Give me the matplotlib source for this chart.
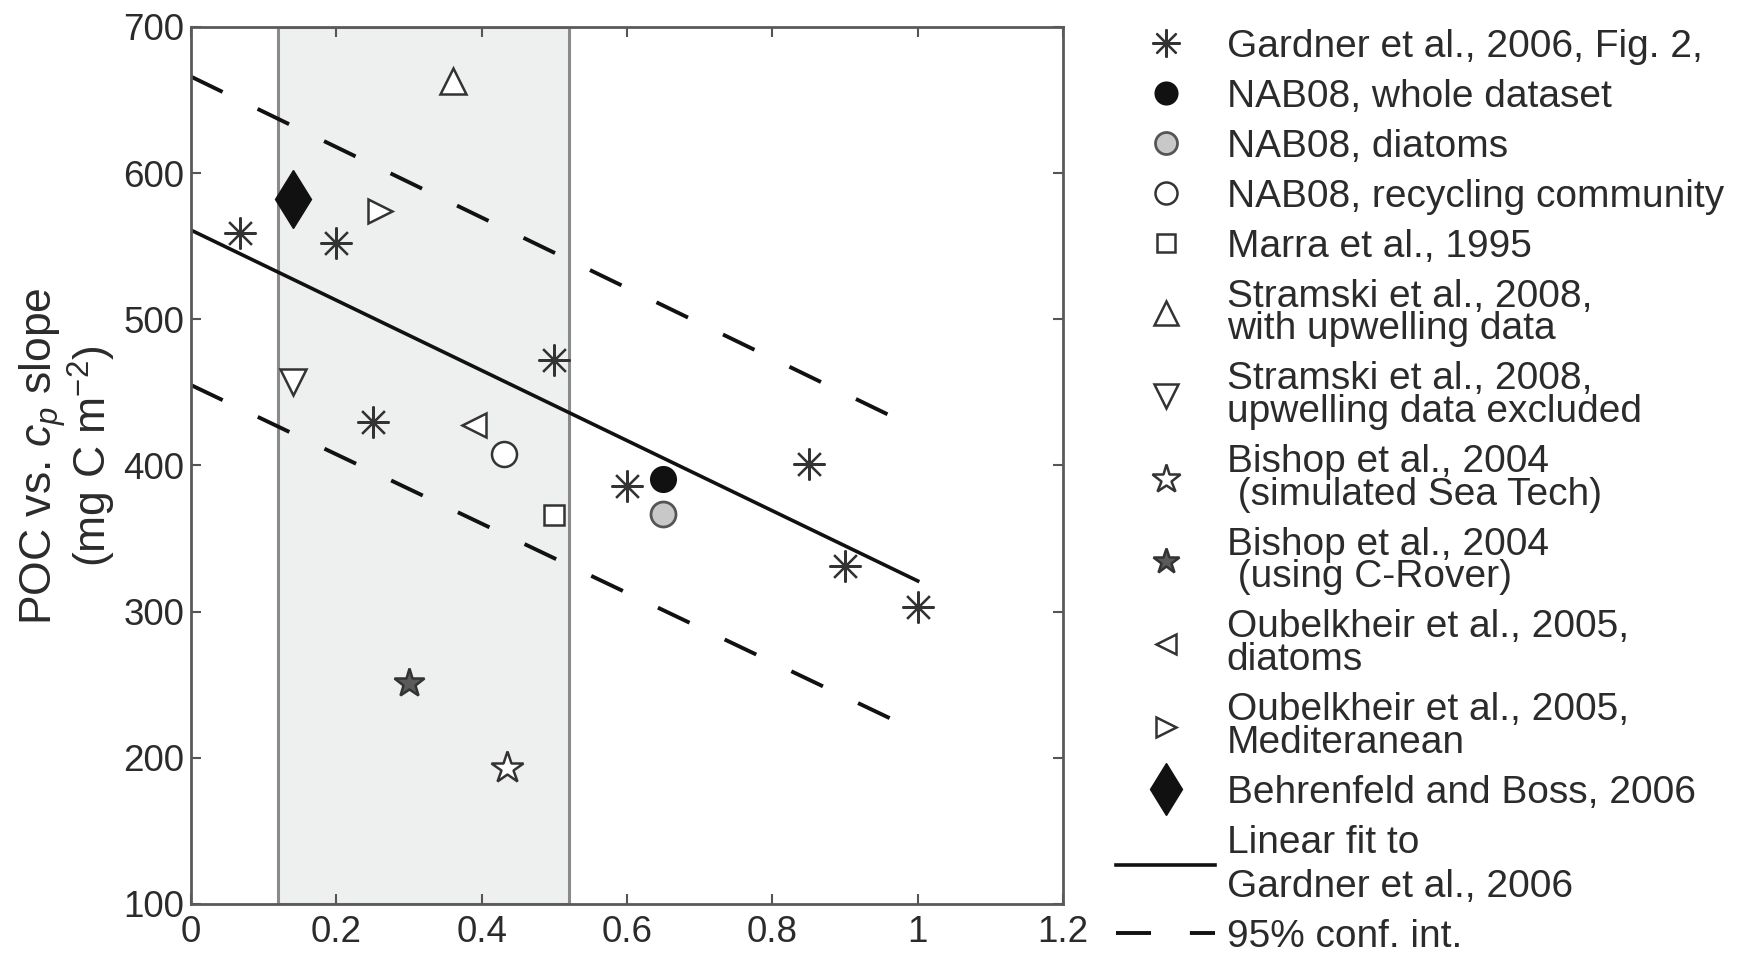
import matplotlib
matplotlib.use("Agg")
import matplotlib.pyplot as plt

plt.rcParams['font.family'] = ['Liberation Sans', 'DejaVu Sans']
plt.rcParams['mathtext.fontset'] = 'custom'
plt.rcParams['mathtext.rm'] = 'Liberation Sans'
plt.rcParams['mathtext.it'] = 'Liberation Sans:italic'

# ---------------- data ----------------
gardner_x = [0.067, 0.2, 0.25, 0.5, 0.6, 0.85, 0.9, 1.0]
gardner_y = [559, 552, 430, 472, 386, 401, 331, 303]

nab_whole = (0.65, 391)
nab_diatoms = (0.65, 367)
nab_recycling = (0.43, 408)
marra = (0.50, 366)
stramski_up = (0.36, 663)
stramski_excl = (0.14, 457)
bishop_sim = (0.435, 193)
bishop_crover = (0.30, 251)
oubel_diatoms = (0.39, 428)
oubel_med = (0.26, 574)
behrenfeld = (0.14, 582)

fit_x = [0.0, 1.0]
fit_y = [561, 321]
ci_upper_y = [666, 425]
ci_lower_y = [455, 218]

shade_range = (0.12, 0.52)

xticks = [0, 0.2, 0.4, 0.6, 0.8, 1, 1.2]
xtick_labels = ['0', '0.2', '0.4', '0.6', '0.8', '1', '1.2']
yticks = [100, 200, 300, 400, 500, 600, 700]

labels = [
    "Gardner et al., 2006, Fig. 2,",
    "NAB08, whole dataset",
    "NAB08, diatoms",
    "NAB08, recycling community",
    "Marra et al., 1995",
    "Stramski et al., 2008,\nwith upwelling data",
    "Stramski et al., 2008,\nupwelling data excluded",
    "Bishop et al., 2004\n (simulated Sea Tech)",
    "Bishop et al., 2004\n (using C-Rover)",
    "Oubelkheir et al., 2005,\ndiatoms",
    "Oubelkheir et al., 2005,\nMediteranean",
    "Behrenfeld and Boss, 2006",
    "Linear fit to\nGardner et al., 2006",
    "95% conf. int.",
]

# ---------------- figure ----------------
FS_TICK = 26.5
FS_LEG = 28
FS_YLAB = 32
TXT = '#2b2b2b'
EDGE = '#333333'
fig = plt.figure(figsize=(17.45, 9.56), dpi=100)
ax = fig.add_axes([0.1095, 0.0544, 0.4997, 0.9174])

ax.axvspan(shade_range[0], shade_range[1], facecolor='#eef0ef',
           edgecolor='#8a8a8a', linewidth=2.2, zorder=0)

dash = (0, (9, 10))
h_ci, = ax.plot(fit_x, ci_upper_y, color='#111111', lw=2.8, linestyle=dash, zorder=2)
ax.plot(fit_x, ci_lower_y, color='#111111', lw=2.8, linestyle=dash, zorder=2)
h_fit, = ax.plot(fit_x, fit_y, color='#111111', lw=2.6, zorder=2)

ast = (8, 2, 0)
h1, = ax.plot(gardner_x, gardner_y, linestyle='none', marker=ast, ms=23,
              mec=EDGE, mew=1.6, zorder=3)

def pt(p, **kw):
    h, = ax.plot([p[0]], [p[1]], linestyle='none', zorder=4, **kw)
    return h

h2 = pt(nab_whole, marker='o', ms=18, mfc='#111111', mec='#111111', mew=1.5)
h3 = pt(nab_diatoms, marker='o', ms=18, mfc='#c8c8c8', mec='#555555', mew=2)
h4 = pt(nab_recycling, marker='o', ms=18, mfc='white', mec=EDGE, mew=1.8)
h5 = pt(marra, marker='s', ms=15, mfc='white', mec=EDGE, mew=1.8)
h6 = pt(stramski_up, marker='^', ms=19, mfc='white', mec=EDGE, mew=1.8)
h7 = pt(stramski_excl, marker='v', ms=19, mfc='white', mec=EDGE, mew=1.8)
h8 = pt(bishop_sim, marker='*', ms=24, mfc='white', mec=EDGE, mew=1.8)
h9 = pt(bishop_crover, marker='*', ms=22, mfc='#5a5a5a', mec=EDGE, mew=1.8)
h10 = pt(oubel_diatoms, marker='<', ms=17, mfc='white', mec=EDGE, mew=1.8)
h11 = pt(oubel_med, marker='>', ms=17, mfc='white', mec=EDGE, mew=1.8)
h12 = pt(behrenfeld, marker='d', ms=30, mfc='#111111', mec='#111111', mew=1)

ax.set_xlim(0, 1.2)
ax.set_ylim(100, 700)
ax.set_xticks(xticks)
ax.set_xticklabels(xtick_labels)
ax.set_yticks(yticks)
ax.tick_params(direction='in', length=7, width=1.5, colors='#555555',
               labelcolor=TXT, labelsize=FS_TICK, top=True, right=True)
ax.tick_params(axis='x', pad=8)
ax.tick_params(axis='y', pad=5)
for s in ax.spines.values():
    s.set_color('#5a5a5a')
    s.set_linewidth(2.0)

ax.set_ylabel("POC vs. $c_p$ slope\n(mg C m$^{-2}$)", fontsize=FS_YLAB, color=TXT,
              linespacing=0.94, labelpad=4)
ax.yaxis.label.set_y(0.511)

handles = [h1, h2, h3, h4, h5, h6, h7, h8, h9, h10, h11, h12, h_fit, h_ci]
leg = fig.legend(handles, labels, loc='upper left',
                 bbox_to_anchor=(0.6395, 0.970), frameon=False,
                 fontsize=FS_LEG, handlelength=2.55, handletextpad=0.3,
                 labelspacing=0.36, borderpad=0, borderaxespad=0,
                 markerscale=0.88)
for i, t in enumerate(leg.get_texts()):
    t.set_color(TXT)
    t.set_linespacing(1.3 if i == 12 else 0.88)

fig.savefig("out.png", dpi=100, facecolor='white')
